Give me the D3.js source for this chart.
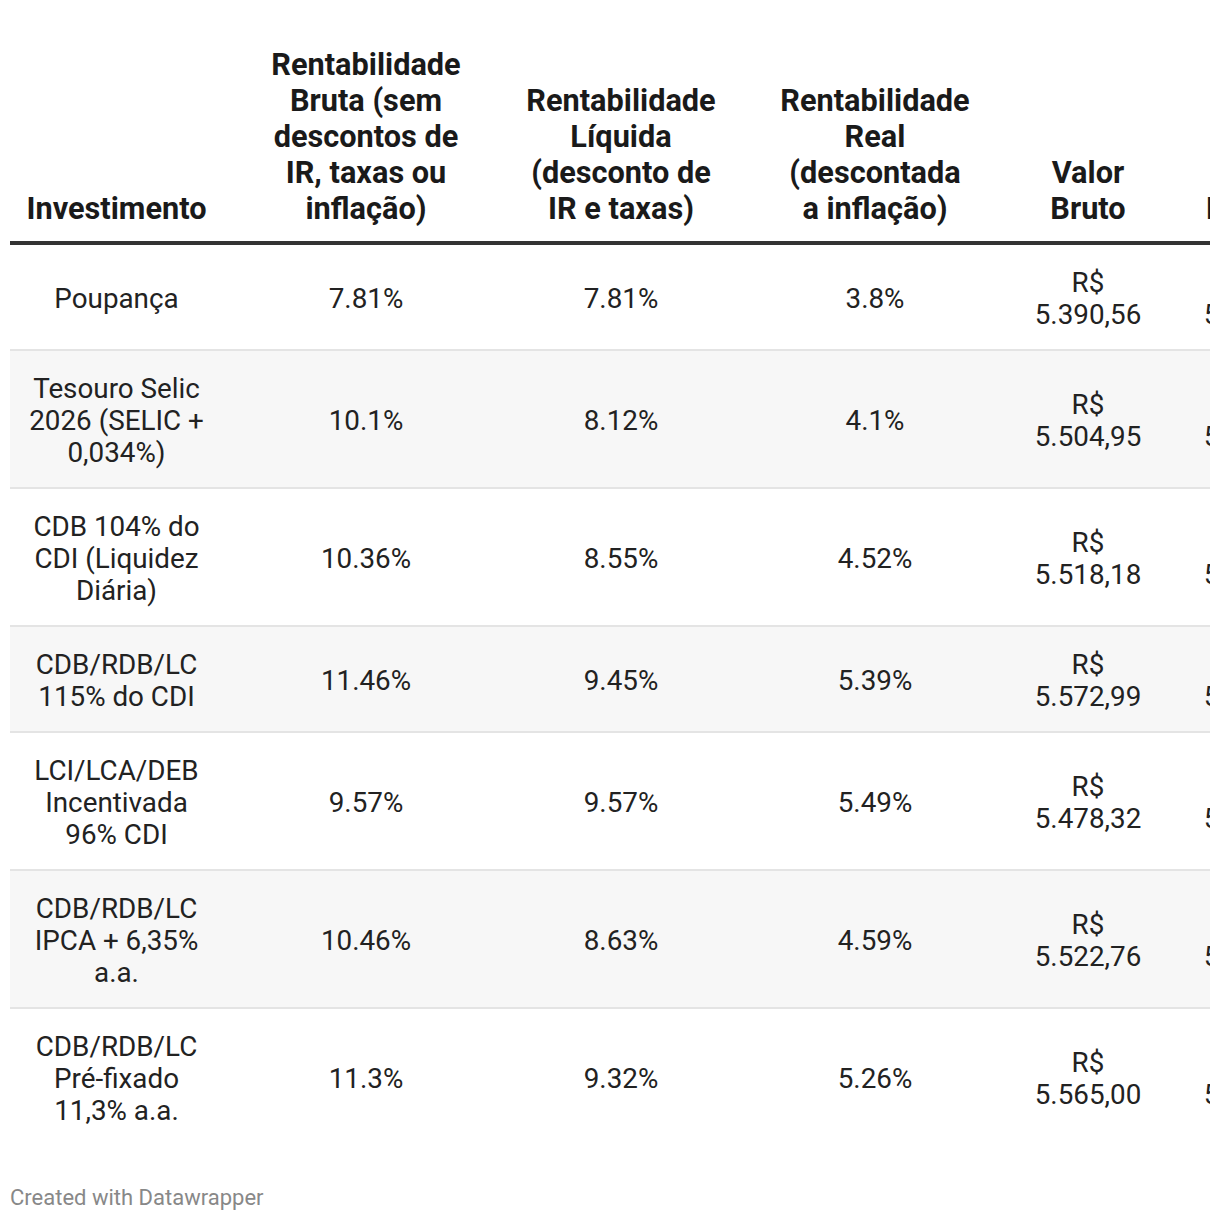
<!DOCTYPE html>
<html>
<head>
<meta charset="utf-8">
<script src="https://cdn.jsdelivr.net/npm/d3@7"></script>
<style>
  html, body { margin: 0; padding: 0; background: #fff; }
  svg { display: block; font-family: Roboto, sans-serif; }
</style>
</head>
<body>
<svg id="chart" width="1220" height="1222"></svg>
<script>
// table content
var headers = [
    "Investimento",
    "Rentabilidade\nBruta (sem\ndescontos de\nIR, taxas ou\ninflação)",
    "Rentabilidade\nLíquida\n(desconto de\nIR e taxas)",
    "Rentabilidade\nReal\n(descontada\na inflação)",
    "Valor\nBruto",
    "Valor\nLíquido"
];
var investimentos = [
    "Poupança",
    "Tesouro Selic\n2026 (SELIC +\n0,034%)",
    "CDB 104% do\nCDI (Liquidez\nDiária)",
    "CDB/RDB/LC\n115% do CDI",
    "LCI/LCA/DEB\nIncentivada\n96% CDI",
    "CDB/RDB/LC\nIPCA + 6,35%\na.a.",
    "CDB/RDB/LC\nPré-fixado\n11,3% a.a."
];
var rentBruta = [7.81, 10.1, 10.36, 11.46, 9.57, 10.46, 11.3];
var rentLiquida = [7.81, 8.12, 8.55, 9.45, 9.57, 8.63, 9.32];
var rentReal = [3.8, 4.1, 4.52, 5.39, 5.49, 4.59, 5.26];
var valorBruto = [5390.56, 5504.95, 5518.18, 5572.99, 5478.32, 5522.76, 5565.00];
var valorLiquido = [5390.56, 5406.00, 5427.50, 5472.50, 5478.32, 5431.50, 5466.00];

var colWidths = [213, 286, 224, 284, 142, 196];
var W = 1220, left = 10, right = 1210;
var lineH = 32, headLineH = 36, pad = 21;
var headBase = 219, headRule = 243;

var br = d3.formatLocale({decimal: ",", thousands: ".", grouping: [3], currency: ["R$", ""]});
var money = br.format(",.2f");
var pct = function(d) { return d + "%"; };

var rows = investimentos.map(function(name, i) {
    return [name, pct(rentBruta[i]), pct(rentLiquida[i]), pct(rentReal[i]),
            "R$\n" + money(valorBruto[i]), "R$\n" + money(valorLiquido[i])];
});

// column centers (cumsum gives a typed array, so turn it into a plain one)
var edges = [left].concat(Array.from(d3.cumsum(colWidths), function(d) { return d + left; }));
var x = d3.scaleOrdinal().domain(d3.range(colWidths.length))
    .range(colWidths.map(function(w, i) { return edges[i] + w / 2; }));

// row heights
var rowH = rows.map(function(r) { return d3.max(r, function(c) { return c.split("\n").length; }) * lineH + 2 * pad; });
var rowTop = [headRule + 2];
rowH.forEach(function(h, i) { rowTop.push(rowTop[i] + h); });

var svg = d3.select("#chart");
svg.append("defs").append("clipPath").attr("id", "clip")
   .append("rect").attr("x", 0).attr("y", 0).attr("width", right).attr("height", 1222);
var g = svg.append("g").attr("clip-path", "url(#clip)");

// stripes
g.selectAll("rect.stripe")
 .data(rows)
 .enter()
 .append("rect")
 .attr("class", "stripe")
 .attr("x", left)
 .attr("y", function(d, i) { return rowTop[i]; })
 .attr("width", W)
 .attr("height", function(d, i) { return rowH[i]; })
 .attr("fill", function(d, i) { return i % 2 ? "#f7f7f7" : "#fff"; });

// separators
g.selectAll("line.sep")
 .data(rows.slice(0, -1))
 .enter()
 .append("line")
 .attr("x1", left).attr("x2", W)
 .attr("y1", function(d, i) { return rowTop[i + 1] - 1; })
 .attr("y2", function(d, i) { return rowTop[i + 1] - 1; })
 .attr("stroke", "#e4e4e4")
 .attr("stroke-width", 2);

// header rule
g.append("line")
 .attr("x1", left).attr("x2", W)
 .attr("y1", headRule).attr("y2", headRule)
 .attr("stroke", "#333")
 .attr("stroke-width", 4);

// header text
g.selectAll("text.head")
 .data(headers)
 .enter()
 .append("text")
 .attr("class", "head")
 .attr("text-anchor", "middle")
 .attr("font-size", "30.7px")
 .attr("font-weight", "bold")
 .attr("fill", "#1a1a1a")
 .each(function(d, i) {
     var lines = d.split("\n");
     var t = d3.select(this);
     lines.forEach(function(l, j) {
         t.append("tspan")
          .attr("x", x(i))
          .attr("y", headBase - (lines.length - 1 - j) * headLineH)
          .text(l);
     });
 });

// cells
rows.forEach(function(r, i) {
    var mid = rowTop[i] + rowH[i] / 2;
    g.selectAll(null)
     .data(r)
     .enter()
     .append("text")
     .attr("text-anchor", "middle")
     .attr("font-size", "27.8px")
     .attr("fill", "#222")
     .each(function(d, c) {
         var lines = d.split("\n");
         var t = d3.select(this);
         lines.forEach(function(l, j) {
             t.append("tspan")
              .attr("x", x(c))
              .attr("y", mid - (lines.length - 1) * lineH / 2 + j * lineH + 10)
              .text(l);
         });
     });
});

// footer
svg.append("text")
   .attr("x", left)
   .attr("y", 1205)
   .attr("font-size", "22px")
   .attr("fill", "#888")
   .text("Created with Datawrapper");
</script>
</body>
</html>
